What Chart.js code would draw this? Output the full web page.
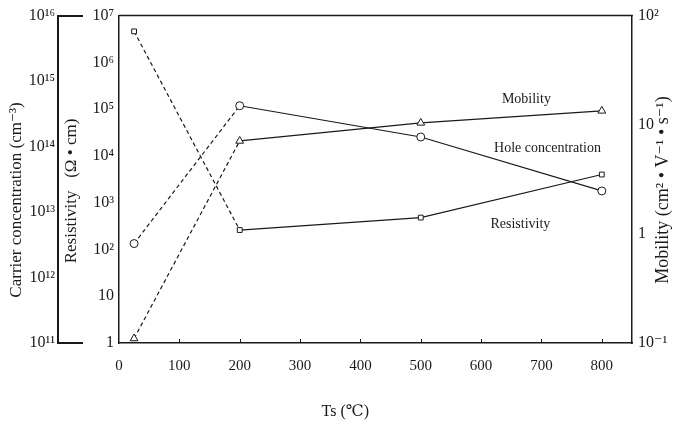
<!DOCTYPE html>
<html><head><meta charset="utf-8">
<script src="https://cdn.jsdelivr.net/npm/chart.js@4/dist/chart.umd.min.js"></script>
<style>html,body{margin:0;padding:0;background:#fff}#wrap{width:673px;height:428px}</style>
</head><body><div id="wrap"><canvas id="c" width="673" height="428"></canvas></div>
<script>
const temperatures = [25, 200, 500, 800];
const resistivity = [4.6e6, 2.6e2, 4.8e2, 4.0e3];
const holeConcentration = [3.3e12, 4.2e14, 1.4e14, 2.1e13];
const mobility = [0.11, 7.1, 10.4, 13.4];

const xTicks = [0, 100, 200, 300, 400, 500, 600, 700, 800];
const carrierTicks = [1e11, 1e12, 1e13, 1e14, 1e15, 1e16];
const carrierTickLabels = ['10¹¹', '10¹²', '10¹³', '10¹⁴', '10¹⁵', '10¹⁶'];
const resistivityTicks = [1, 10, 1e2, 1e3, 1e4, 1e5, 1e6, 1e7];
const resistivityTickLabels = ['1', '10', '10²', '10³', '10⁴', '10⁵', '10⁶', '10⁷'];
const mobilityTicks = [0.1, 1, 10, 100];
const mobilityTickLabels = ['10⁻¹', '1', '10', '10²'];

const seriesNames = ['Resistivity', 'Hole concentration', 'Mobility'];
const axisTitles = {
  x: 'Ts (℃)',
  carrier: 'Carrier concentration (cm⁻³)',
  resistivity: 'Resistivity   (Ω • cm)',
  mobility: 'Mobility (cm² • V⁻¹ • s⁻¹)'
};

const INK = '#1a1a1a';
const SERIF = '"Liberation Serif", "DejaVu Serif", serif';

function pts(ys) { return temperatures.map((t, i) => ({ x: t, y: ys[i] })); }
const dashFirst = { borderDash: ctx => ctx.p0DataIndex === 0 ? [4, 3] : undefined };

function setTicks(vals) { return s => { s.ticks = vals.map(v => ({ value: v })); }; }
function labelFrom(vals, labels) { return (v) => { const i = vals.indexOf(v); return i >= 0 ? labels[i] : ''; }; }

const decor = {
  id: 'decor',
  afterDraw(chart) {
    const c = chart.ctx, a = chart.chartArea, s = chart.scales;
    c.save();
    c.strokeStyle = INK;
    // top border
    c.lineWidth = 1.5;
    c.beginPath(); c.moveTo(a.left, a.top); c.lineTo(a.right + 0.75, a.top); c.stroke();
    // carrier axis end stubs
    const cs = s.yCarrier;
    c.lineWidth = 2;
    [carrierTicks[0], carrierTicks[carrierTicks.length - 1]].forEach(v => {
      const y = Math.round(cs.getPixelForValue(v));
      c.beginPath(); c.moveTo(cs.right - 1, y); c.lineTo(cs.right + 25, y); c.stroke();
    });
    // inward x ticks
    c.lineWidth = 1;
    xTicks.forEach(v => {
      if (v === 0) return;
      const x = Math.round(s.x.getPixelForValue(v)) + 0.5;
      c.beginPath(); c.moveTo(x, a.bottom); c.lineTo(x, a.bottom - 4); c.stroke();
    });
    // titles
    c.fillStyle = INK;
    c.font = '16px ' + SERIF;
    c.textAlign = 'center'; c.textBaseline = 'middle';
    c.fillText(axisTitles.x, s.x.getPixelForValue(375), 412);
    const rot = (txt, x, y) => { c.save(); c.translate(x, y); c.rotate(-Math.PI / 2); c.fillText(txt, 0, 0); c.restore(); };
    c.font = '17px ' + SERIF;
    rot(axisTitles.carrier, 17, 200);
    rot(axisTitles.resistivity, 72, 191);
    c.font = '18px ' + SERIF;
    rot(axisTitles.mobility, 663, 190);
    // series labels
    c.font = '14px ' + SERIF;
    c.fillText(seriesNames[2], s.x.getPixelForValue(675), s.yMob.getPixelForValue(17));
    c.fillText(seriesNames[1], s.x.getPixelForValue(710), s.yCarrier.getPixelForValue(9.5e13));
    c.fillText(seriesNames[0], s.x.getPixelForValue(665), s.yRes.getPixelForValue(3.4e2));
    c.restore();
  }
};

const pointCommon = { pointBackgroundColor: '#fff', pointBorderColor: INK, pointBorderWidth: 1, borderColor: INK, borderWidth: 1.2, fill: false, tension: 0, showLine: true };

new Chart(document.getElementById('c'), {
  type: 'scatter',
  data: {
    datasets: [
      Object.assign({ label: seriesNames[0], data: pts(resistivity), yAxisID: 'yRes', pointStyle: 'rect', pointRadius: 3.4, segment: dashFirst }, pointCommon),
      Object.assign({ label: seriesNames[1], data: pts(holeConcentration), yAxisID: 'yCarrier', pointStyle: 'circle', pointRadius: 4, segment: dashFirst }, pointCommon),
      Object.assign({ label: seriesNames[2], data: pts(mobility), yAxisID: 'yMob', pointStyle: 'triangle', pointRadius: 4.5, segment: dashFirst }, pointCommon)
    ]
  },
  options: {
    responsive: false, animation: false, devicePixelRatio: 1,
    layout: { padding: 0 },
    plugins: { legend: { display: false }, tooltip: { enabled: false } },
    scales: {
      x: {
        type: 'linear', position: 'bottom', min: 0, max: 850,
        afterBuildTicks: setTicks(xTicks),
        afterFit: s => { s.height = 85; },
        grid: { drawOnChartArea: false, drawTicks: false },
        border: { display: true, color: INK, width: 1.5 },
        ticks: { color: INK, padding: 14, font: { family: SERIF, size: 15 }, maxRotation: 0, autoSkip: false, callback: v => String(v) }
      },
      yRes: {
        type: 'logarithmic', position: 'left', min: 1, max: 1e7,
        afterBuildTicks: setTicks(resistivityTicks),
        afterFit: s => { s.width = 61; },
        grid: { drawOnChartArea: false, drawTicks: false },
        border: { display: true, color: INK, width: 1.5 },
        ticks: { color: INK, padding: 5, font: { family: SERIF, size: 16 }, autoSkip: false, callback: labelFrom(resistivityTicks, resistivityTickLabels) }
      },
      yCarrier: {
        type: 'logarithmic', position: 'left', min: 1e11, max: 1e16,
        afterBuildTicks: setTicks(carrierTicks),
        afterFit: s => { s.width = 58; },
        grid: { drawOnChartArea: false, drawTicks: false },
        border: { display: true, color: INK, width: 2 },
        ticks: { color: INK, padding: 3, font: { family: SERIF, size: 16 }, autoSkip: false, callback: labelFrom(carrierTicks, carrierTickLabels) }
      },
      yMob: {
        type: 'logarithmic', position: 'right', min: 0.1, max: 100,
        afterBuildTicks: setTicks(mobilityTicks),
        afterFit: s => { s.width = 41; },
        grid: { drawOnChartArea: false, drawTicks: false },
        border: { display: true, color: INK, width: 1.5 },
        ticks: { color: INK, padding: 6, font: { family: SERIF, size: 16 }, autoSkip: false, callback: labelFrom(mobilityTicks, mobilityTickLabels) }
      }
    }
  },
  plugins: [decor]
});
</script></body></html>
